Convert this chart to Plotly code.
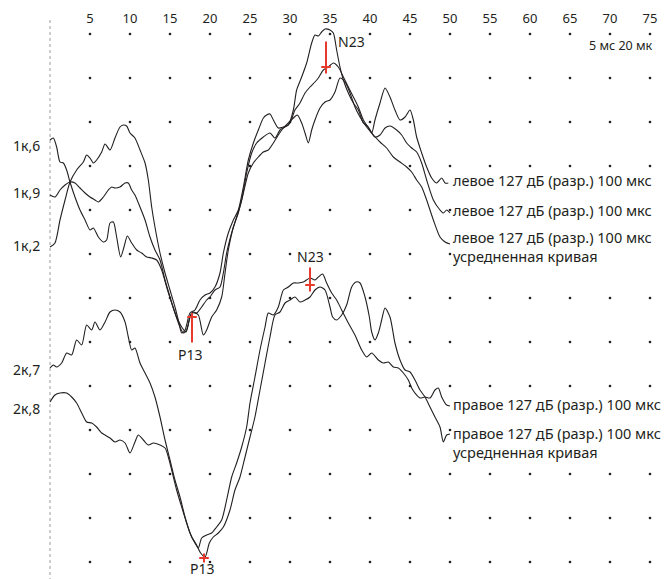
import plotly.graph_objects as go

# Time axis (ms) and grid
tick_ms = list(range(5, 80, 5))
grid_levels = [34, 78, 122, 166, 210, 254, 298, 342, 386, 430, 474, 518, 562]

# Left-ear responses (time in ms, level in display units, positive = down)
left1_t = [0, 0.62, 1.25, 1.88, 2.5, 3.33, 4.17, 4.58, 5.0, 5.42, 5.83, 6.46, 6.88, 7.5, 8.12, 8.75, 9.17, 9.58, 10.0, 10.62,
           11.25, 11.88, 12.29, 12.71, 13.12, 13.75, 14.38, 15.0, 15.62, 16.04, 16.46, 16.88, 17.5, 18.12, 18.75, 19.38, 20.0,
           20.62, 21.25, 21.67, 22.29, 22.92, 23.54, 24.17, 24.79, 25.42, 26.04, 26.67, 27.08, 27.5, 27.92, 28.54, 29.17, 29.79,
           30.42, 30.83, 31.46, 32.08, 32.71, 33.12, 33.54, 33.96, 34.38, 35.0, 35.42, 35.83, 36.25, 36.67, 37.29, 37.92, 38.54,
           39.17, 39.79, 40.21, 40.62, 41.25, 41.88, 42.5, 43.12, 43.75, 44.38, 45.0, 45.42, 45.83, 46.46, 47.08, 47.71, 48.33,
           48.96, 49.38, 49.79]
left1_v = [247, 243, 220, 200, 182, 170, 162, 155, 158, 163, 160, 152, 144, 150, 138, 127, 125, 126, 133, 138,
           150, 163, 180, 207, 227, 253, 273, 290, 307, 320, 333, 330, 313, 310, 300, 295, 293, 287, 273, 253,
           233, 220, 210, 187, 160, 143, 130, 118, 115, 114, 120, 128, 127, 125, 110, 90, 77, 63, 43, 35,
           36, 32, 29, 30, 33, 50, 67, 80, 93, 103, 110, 123, 127, 133, 120, 103, 88, 97, 110, 120, 117,
           110, 120, 137, 153, 167, 178, 183, 178, 183, 183]

left2_t = [0, 0.62, 1.25, 1.88, 2.5, 3.12, 3.75, 4.38, 5.0, 5.62, 6.04, 6.67, 7.29, 7.71, 8.12, 8.75, 9.38, 9.79, 10.21,
           10.62, 11.25, 11.88, 12.5, 13.12, 13.75, 14.38, 15.0, 15.62, 16.25, 16.67, 17.08, 17.71, 18.33, 18.96, 19.58, 20.0,
           20.62, 21.25, 21.67, 22.08, 22.71, 23.33, 23.96, 24.58, 25.21, 25.83, 26.67, 27.5, 28.12, 28.75, 29.38, 30.0, 30.62,
           31.25, 31.88, 32.5, 33.12, 33.54, 34.17, 34.79, 35.42, 36.04, 36.67, 37.29, 37.92, 38.54, 39.17, 40.0, 40.62, 41.25,
           41.88, 42.5, 43.33, 43.96, 44.58, 45.21, 45.83, 46.46, 47.08, 47.92, 48.75, 49.17, 49.58, 50.0]
left2_v = [195, 197, 190, 185, 182, 183, 188, 193, 197, 200, 202, 197, 190, 187, 188, 187, 183, 183, 190,
           195, 207, 220, 237, 250, 260, 280, 297, 313, 327, 333, 330, 313, 313, 307, 300, 297,
           290, 287, 273, 253, 233, 217, 200, 173, 153, 143, 137, 133, 138, 130, 127, 123, 110,
           103, 93, 87, 82, 78, 70, 67, 63, 67, 77, 87, 97, 107, 120, 130, 137, 135, 128,
           126, 130, 135, 143, 148, 152, 163, 180, 200, 210, 213, 210, 213]

left3_t = [0, 0.42, 0.83, 1.25, 1.67, 2.08, 2.5, 3.12, 3.75, 4.38, 5.0, 5.42, 6.04, 6.67, 7.08, 7.5, 7.92, 8.33, 8.83,
           9.25, 9.67, 10.21, 10.83, 11.46, 12.08, 12.71, 13.33, 13.96, 14.58, 15.21, 15.83, 16.46, 17.0, 17.5, 17.92, 18.54,
           19.17, 19.58, 20.21, 20.83, 21.46, 21.88, 22.29, 22.92, 23.54, 24.17, 24.79, 25.42, 26.04, 26.67, 27.29, 27.92,
           28.54, 29.17, 29.79, 30.42, 30.92, 31.46, 31.88, 32.29, 32.71, 33.12, 33.75, 34.38, 35.0, 35.62, 36.25, 36.88,
           37.5, 38.12, 38.75, 39.58, 40.42, 41.25, 42.08, 42.92, 43.75, 44.58, 45.21, 45.83, 46.46, 47.08, 47.92, 48.75,
           49.38, 50.0]
left3_v = [140, 138, 147, 162, 163, 170, 182, 197, 210, 220, 230, 228, 237, 242, 240, 223, 222, 237, 257,
           247, 236, 243, 250, 253, 257, 258, 260, 270, 287, 303, 317, 327, 332, 317, 312, 315,
           335, 330, 317, 310, 297, 273, 250, 227, 213, 193, 173, 163, 157, 152, 150, 143,
           135, 128, 123, 118, 115, 123, 133, 143, 130, 120, 108, 102, 100, 92, 78, 82, 93,
           107, 117, 127, 135, 142, 148, 157, 162, 167, 172, 180, 187, 200, 220, 237, 242, 244]

# Right-ear responses
right1_t = [0, 0.42, 0.83, 1.46, 2.08, 2.71, 3.33, 3.96, 4.58, 5.21, 5.62, 6.25, 6.88, 7.5, 8.12, 8.75, 9.38, 9.79, 10.21,
            10.62, 11.25, 11.88, 12.5, 13.12, 13.75, 14.38, 15.0, 15.62, 16.25, 16.88, 17.5, 18.12, 18.54, 18.96, 19.58,
            20.21, 20.83, 21.46, 22.08, 22.71, 23.33, 23.96, 24.58, 25.0, 25.62, 26.25, 26.88, 27.29, 27.92, 28.54, 29.17,
            29.79, 30.42, 31.04, 31.67, 32.5, 33.12, 33.54, 34.08, 34.58, 35.21, 35.83, 36.46, 37.29, 38.12, 38.96, 39.58,
            40.21, 41.04, 41.67, 42.29, 42.92, 43.54, 44.17, 44.79, 45.21, 45.62, 46.25, 46.88, 47.5, 48.12, 48.54, 48.96,
            49.58, 50.0]
right1_v = [368, 365, 367, 363, 353, 355, 340, 345, 325, 330, 322, 330, 322, 312, 310, 312, 322, 337, 350,
            348, 363, 373, 383, 397, 417, 440, 460, 480, 497, 517, 533, 543, 548, 538, 535,
            533, 527, 520, 500, 477, 463, 447, 427, 403, 377, 350, 327, 313, 315, 307, 290,
            287, 283, 283, 282, 278, 280, 277, 274, 283, 293, 300, 310, 323, 335, 350, 357,
            353, 360, 363, 362, 367, 368, 373, 380, 388, 393, 398, 397, 398, 390, 388, 397,
            405, 406]

right2_t = [0, 0.62, 1.25, 2.08, 2.71, 3.33, 3.96, 4.58, 5.21, 5.83, 6.46, 6.88, 7.5, 8.12, 8.75, 9.38, 10.0, 10.62,
            11.04, 11.67, 12.29, 12.92, 13.75, 14.38, 14.79, 15.21, 15.83, 16.46, 17.08, 17.71, 18.33, 18.83, 19.38, 19.92,
            20.42, 21.04, 21.67, 22.5, 23.12, 23.75, 24.38, 25.0, 25.62, 26.25, 26.88, 27.5, 28.12, 28.75, 29.38, 30.0,
            30.62, 31.25, 31.88, 32.5, 33.12, 33.75, 34.38, 35.0, 35.33, 35.83, 36.46, 37.08, 37.71, 38.25, 38.75, 39.38,
            39.92, 40.21, 40.62, 41.04, 41.46, 41.88, 42.5, 43.12, 43.75, 44.38, 45.0, 45.62, 46.25, 46.88, 47.5, 48.12,
            48.75, 49.17, 49.58, 50.0]
right2_v = [402, 395, 393, 393, 397, 403, 413, 422, 423, 427, 433, 435, 438, 442, 440, 443, 453, 442,
            435, 440, 445, 443, 445, 448, 457, 470, 490, 507, 523, 537, 545, 553, 557, 543,
            537, 533, 527, 510, 490, 477, 457, 437, 417, 390, 363, 337, 315, 312, 303, 300,
            297, 302, 300, 297, 290, 287, 290, 307, 317, 320, 315, 305, 287, 282, 283, 297,
            317, 332, 340, 333, 320, 308, 317, 343, 360, 370, 372, 380, 390, 397, 407, 417,
            427, 442, 435, 434]

# Marker positions (ms, level)
marker_t = [34.5, 17.75, 32.5, 19.25]
marker_v = [67, 317, 285, 558]

channel_names = ["1к,6", "1к,9", "1к,2", "2к,7", "2к,8"]
channel_levels = [145, 192, 245, 369, 408]
legend_lines = ["левое 127 дБ (разр.) 100 мкс",
                "левое 127 дБ (разр.) 100 мкс",
                "левое 127 дБ (разр.) 100 мкс<br>усредненная кривая",
                "правое 127 дБ (разр.) 100 мкс",
                "правое 127 дБ (разр.) 100 мкс<br>усредненная кривая"]
legend_levels = [180, 210, 246.5, 404, 442]

INK = "#231f20"
RED = "#e8392f"
FONT = "Noto Sans"

fig = go.Figure()

# Dotted reference line at time zero
fig.add_trace(go.Scatter(x=[0, 0], y=[20, 579], mode="lines",
                         line=dict(color="#9a9a9a", width=1, dash="dot"), hoverinfo="skip"))

# Grid of dots
gx = [t for _ in grid_levels for t in tick_ms]
gy = [v for v in grid_levels for _ in tick_ms]
fig.add_trace(go.Scatter(x=gx, y=gy, mode="markers",
                         marker=dict(size=2.6, color=INK), hoverinfo="skip"))

for tt, vv in [(left1_t, left1_v), (left2_t, left2_v), (left3_t, left3_v),
               (right1_t, right1_v), (right2_t, right2_v)]:
    fig.add_trace(go.Scatter(x=tt, y=vv, mode="lines", line_shape="spline",
                             line=dict(color=INK, width=1.1, smoothing=0.7), hoverinfo="skip"))

# Peak markers: vertical stroke plus short horizontal tick
half = 0.6
stems = [(-3.2, 0.8), (-0.5, 3.2), (-2.2, 0.8), (-0.55, 0.55)]
for (t, v), (up, down) in zip(zip(marker_t, marker_v), stems):
    fig.add_trace(go.Scatter(x=[t, t], y=[v + up * 8, v + down * 8], mode="lines",
                             line=dict(color=RED, width=2), hoverinfo="skip"))
    fig.add_trace(go.Scatter(x=[t - half, t + half], y=[v, v], mode="lines",
                             line=dict(color=RED, width=2), hoverinfo="skip"))

ann = []
for name, lv in zip(channel_names, channel_levels):
    ann.append(dict(x=-1.0, y=lv, text=name, xanchor="right", yanchor="middle", showarrow=False,
                    font=dict(family=FONT, size=14, color=INK)))
for txt, lv in zip(legend_lines, legend_levels):
    ann.append(dict(x=50.25, y=lv, text=txt, xanchor="left", yanchor="middle", align="left",
                    showarrow=False, bgcolor="white", borderpad=0,
                    font=dict(family=FONT, size=14.5, color=INK)))
peak_labels = [("N23", 35.9, 41, "left", "middle"), ("P13", 17.6, 354, "center", "middle"),
               ("N23", 32.6, 256, "center", "middle"), ("P13", 19.1, 579, "center", "bottom")]
for txt, t, lv, xa, ya in peak_labels:
    ann.append(dict(x=t, y=lv, text=txt, xanchor=xa, yanchor=ya, showarrow=False, borderpad=0,
                    font=dict(family=FONT, size=14, color=INK)))
ann.append(dict(x=75.6, y=45, text="5 мс 20 мк", xanchor="right", yanchor="middle", showarrow=False,
                font=dict(family=FONT, size=12.5, color=INK)))

fig.update_layout(
    width=667, height=579, margin=dict(l=0, r=0, t=0, b=0),
    paper_bgcolor="white", plot_bgcolor="white", showlegend=False,
    annotations=ann,
    xaxis=dict(range=[-6.25, 77.125], side="top", tickvals=tick_ms, ticks="",
               ticklabelposition="inside", ticklabelstandoff=11, showgrid=False, zeroline=False,
               showline=False, tickfont=dict(family=FONT, size=13, color=INK)),
    yaxis=dict(range=[579, 0], visible=False, showgrid=False, zeroline=False),
)

fig.write_html("out.html")
